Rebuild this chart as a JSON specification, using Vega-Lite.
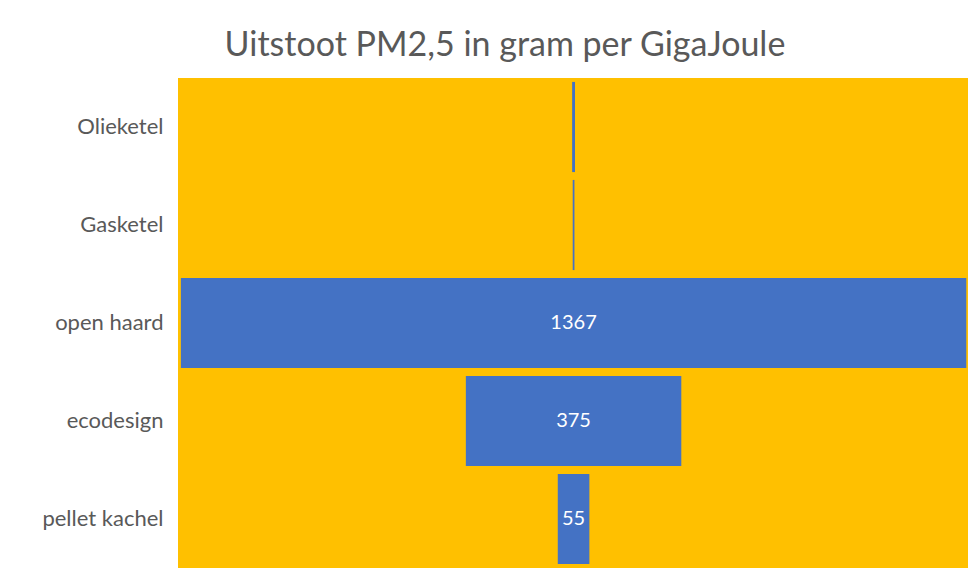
{
  "$schema": "https://vega.github.io/schema/vega-lite/v6.json",
  "autosize": "none",
  "width": 790,
  "height": 490,
  "padding": {"left": 178, "top": 78, "right": 3, "bottom": 10},
  "background": "white",
  "title": {
    "text": "Uitstoot PM2,5 in gram per GigaJoule",
    "font": "Lato",
    "fontSize": 34,
    "fontWeight": "normal",
    "color": "#595959",
    "anchor": "middle",
    "frame": "bounds",
    "offset": 15
  },
  "config": {"view": {"fill": "#FFC000", "stroke": null}},
  "data": {
    "values": [
      {"type": "Olieketel", "value": 5},
      {"type": "Gasketel", "value": 3},
      {"type": "open haard", "value": 1367},
      {"type": "ecodesign", "value": 375},
      {"type": "pellet kachel", "value": 55}
    ]
  },
  "encoding": {
    "y": {
      "field": "type",
      "type": "nominal",
      "sort": null,
      "scale": {"paddingInner": 0.08, "paddingOuter": 0.04},
      "axis": {
        "title": null,
        "domain": false,
        "ticks": false,
        "labelFont": "Lato",
        "labelFontSize": 22,
        "labelColor": "#595959",
        "labelPadding": 15
      }
    }
  },
  "layer": [
    {
      "mark": {"type": "bar", "color": "#4472C4"},
      "encoding": {
        "x": {
          "field": "value",
          "type": "quantitative",
          "stack": "center",
          "scale": {"domain": [-5, 1370], "nice": false, "zero": false},
          "axis": null
        }
      }
    },
    {
      "transform": [{"filter": "datum.value > 10"}],
      "mark": {"type": "text", "color": "white", "font": "Lato", "fontSize": 20},
      "encoding": {
        "x": {"datum": 683.5, "type": "quantitative"},
        "text": {"field": "value", "type": "quantitative"}
      }
    }
  ]
}
